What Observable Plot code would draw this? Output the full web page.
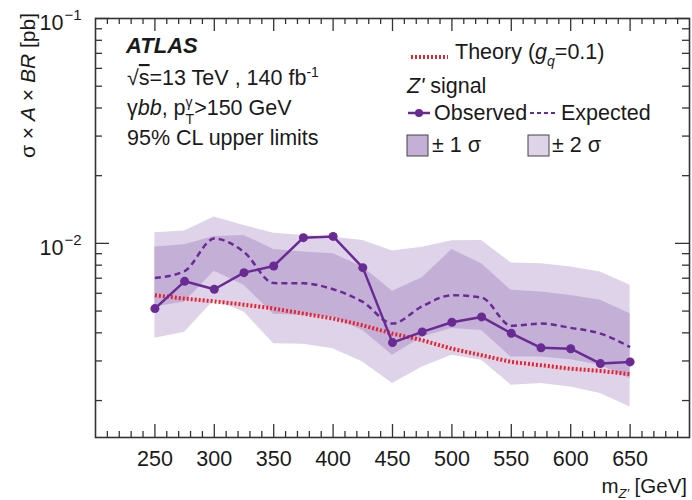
<!DOCTYPE html>
<html><head><meta charset="utf-8">
<script src="https://cdn.jsdelivr.net/npm/d3@7"></script>
<script src="https://cdn.jsdelivr.net/npm/@observablehq/plot@0.6"></script>
<style>
html,body{margin:0;padding:0;background:#fff;}
#chart{width:692px;height:500px;}
</style></head><body><div id="chart"></div>
<script>
// Z' mass points [GeV]
const mass = [250,275,300,325,350,375,400,425,450,475,500,525,550,575,600,625,650];
// 95% CL upper limits on sigma x A x BR [pb]
const observed = [0.00513,0.00678,0.00625,0.00741,0.00793,0.0106,0.01074,0.0078,0.00362,0.00404,0.00446,0.00471,0.00398,0.00343,0.00340,0.00292,0.00297];
const expected = [0.00701,0.00753,0.0105,0.00915,0.00666,0.00664,0.00625,0.00549,0.00440,0.00525,0.00588,0.00574,0.00430,0.00440,0.00421,0.00397,0.00346];
const theory   = [0.00588,0.00568,0.00552,0.00534,0.00513,0.00487,0.00463,0.00432,0.00397,0.00371,0.00340,0.00318,0.00297,0.00287,0.00277,0.00271,0.00262];
const up2 = [0.01116,0.01134,0.01309,0.01202,0.01108,0.01085,0.01066,0.01031,0.00926,0.00960,0.01026,0.01031,0.00817,0.00812,0.00785,0.00745,0.00651];
const up1 = [0.00963,0.00987,0.01074,0.01085,0.00940,0.00915,0.00900,0.00785,0.00612,0.00703,0.00938,0.00812,0.00618,0.00608,0.00587,0.00558,0.00487];
const lo1 = [0.00521,0.00548,0.00751,0.00651,0.00484,0.00479,0.00470,0.00410,0.00318,0.00383,0.00418,0.00410,0.00312,0.00312,0.00304,0.00287,0.00250];
const lo2 = [0.00379,0.00403,0.00558,0.00495,0.00358,0.00356,0.00340,0.00297,0.00238,0.00282,0.00318,0.00302,0.00234,0.00238,0.00230,0.00215,0.00187];

// tick values
const xTickLabels = [250,300,350,400,450,500,550,600,650];
const xMinorTicks = [210,220,230,240,260,270,280,290,310,320,330,340,360,370,380,390,410,420,430,440,460,470,480,490,510,520,530,540,560,570,580,590,610,620,630,640,660,670,680,690];
const yMajorTicks = [0.01, 0.1];
const yMinorTicks = [0.002,0.003,0.004,0.005,0.006,0.007,0.008,0.009,0.02,0.03,0.04,0.05,0.06,0.07,0.08,0.09];

const FONT = "'Liberation Sans', Arial, Helvetica, sans-serif";
const C2 = "#ded3e9", C1 = "#c4b0d7", PURPLE = "#6a2a94", RED = "#e8232f", AX = "#333", TXT = "#1a1a1a";
const W = 692, H = 500, mL = 95, mR = 3, mT = 18, mB = 63;
const iw = W - mL - mR, ih = H - mT - mB;
const FS = 21.5;

const rows = mass.map((m, i) => ({m, obs: observed[i], exp: expected[i], th: theory[i], u2: up2[i], u1: up1[i], l1: lo1[i], l2: lo2[i]}));

const plot = Plot.plot({
  width: W, height: H, marginLeft: mL, marginRight: mR, marginTop: mT, marginBottom: mB,
  style: {fontFamily: FONT, background: "white", color: TXT},
  x: {domain: [200, 700], axis: null},
  y: {type: "log", domain: [1.37e-3, 0.1], axis: null},
  marks: [
    Plot.areaY(rows, {x: "m", y1: "l2", y2: "u2", fill: C2}),
    Plot.areaY(rows, {x: "m", y1: "l1", y2: "u1", fill: C1}),
    Plot.line(rows, {x: "m", y: "th", stroke: RED, strokeWidth: 4, strokeDasharray: "2,2", strokeLinecap: "butt"}),
    Plot.line(rows, {x: "m", y: "exp", stroke: PURPLE, strokeWidth: 2.5, strokeDasharray: "6,4", strokeLinecap: "butt", curve: "monotone-x"}),
    Plot.line(rows, {x: "m", y: "obs", stroke: PURPLE, strokeWidth: 2.5}),
    Plot.dot(rows, {x: "m", y: "obs", r: 4.5, fill: PURPLE}),
    Plot.ruleX(xTickLabels, {x: d => d, insetTop: ih - 13, stroke: AX, strokeWidth: 1.3}),
    Plot.ruleX(xTickLabels, {x: d => d, insetBottom: ih - 13, stroke: AX, strokeWidth: 1.3}),
    Plot.ruleX(xMinorTicks, {x: d => d, insetTop: ih - 6, stroke: AX, strokeWidth: 1.3}),
    Plot.ruleX(xMinorTicks, {x: d => d, insetBottom: ih - 6, stroke: AX, strokeWidth: 1.3}),
    Plot.ruleY(yMajorTicks, {y: d => d, insetRight: iw - 14, stroke: AX, strokeWidth: 1.3}),
    Plot.ruleY(yMajorTicks, {y: d => d, insetLeft: iw - 14, stroke: AX, strokeWidth: 1.3}),
    Plot.ruleY(yMinorTicks, {y: d => d, insetRight: iw - 7, stroke: AX, strokeWidth: 1.3}),
    Plot.ruleY(yMinorTicks, {y: d => d, insetLeft: iw - 7, stroke: AX, strokeWidth: 1.3}),
    Plot.frame({stroke: AX, strokeWidth: 1.6}),
    Plot.text(xTickLabels, {x: d => d, frameAnchor: "bottom", dy: 28, text: d => String(d), fontSize: FS, fill: TXT}),
    Plot.text(yMajorTicks, {y: d => d, frameAnchor: "left", dx: -32, dy: 5, text: () => "10", textAnchor: "end", fontSize: FS, fill: TXT}),
    Plot.text(yMajorTicks, {y: d => d, frameAnchor: "left", dx: -31, dy: -3, text: d => "\u2212" + Math.round(-Math.log10(d)), textAnchor: "start", fontSize: 15, fill: TXT})
  ]
});
document.getElementById("chart").appendChild(plot);

const svg = d3.select(plot);
const g = svg.append("g").attr("font-family", FONT).attr("fill", TXT).attr("text-anchor", "start");

function rich(x, y, runs, base = FS) {
  let cx = x;
  for (const r of runs) {
    const px = cx + (r.dx || 0);
    const t = g.append("text").attr("x", px).attr("y", y + (r.dy || 0))
      .attr("text-anchor", "start")
      .attr("font-size", r.size || base)
      .attr("font-style", r.it ? "italic" : null)
      .attr("font-weight", r.b ? "bold" : null)
      .attr("text-decoration", r.over ? "overline" : null)
      .style("white-space", "pre")
      .text(r.t);
    const w = t.node().getComputedTextLength();
    if (!r.stack) cx = px + w;
  }
  return cx;
}

// Top-left annotation
rich(126, 53, [{t: "ATLAS", b: true, it: true, size: 22}]);
rich(127, 85, [{t: "\u221A"}, {t: "s", over: true}, {t: "=13 TeV , 140 fb"}, {t: "-1", size: 14, dy: -8}]);
rich(127, 115, [{t: "\u03B3"}, {t: "bb", it: true}, {t: ", p"}, {t: "\u03B3", size: 14, dy: -8, stack: true}, {t: "T", size: 14, dy: 9}, {t: ">150 GeV"}]);
rich(127, 145, [{t: "95% CL upper limits"}]);

// Legend
g.append("line").attr("x1", 411).attr("x2", 448).attr("y1", 57).attr("y2", 57)
  .attr("stroke", RED).attr("stroke-width", 4).attr("stroke-dasharray", "2,2");
rich(455, 59, [{t: "Theory ("}, {t: "g", it: true}, {t: "q", it: true, size: 14, dy: 7}, {t: "=0.1)"}]);
rich(407, 93, [{t: "Z'", it: true}, {t: " signal"}]);
g.append("line").attr("x1", 408).attr("x2", 430).attr("y1", 113).attr("y2", 113)
  .attr("stroke", PURPLE).attr("stroke-width", 2.5);
g.append("circle").attr("cx", 419).attr("cy", 113).attr("r", 4).attr("fill", PURPLE);
rich(434, 120, [{t: "Observed"}]);
g.append("line").attr("x1", 530).attr("x2", 557).attr("y1", 113).attr("y2", 113)
  .attr("stroke", PURPLE).attr("stroke-width", 2).attr("stroke-dasharray", "4,3");
rich(561, 120, [{t: "Expected"}]);
g.append("rect").attr("x", 407).attr("y", 135).attr("width", 21).attr("height", 21)
  .attr("fill", C1).attr("stroke", "#444").attr("stroke-width", 1);
rich(432, 152, [{t: "\u00B1 1 \u03C3"}]);
g.append("rect").attr("x", 528).attr("y", 135).attr("width", 21).attr("height", 21)
  .attr("fill", C2).attr("stroke", "#444").attr("stroke-width", 1);
rich(552, 152, [{t: "\u00B1 2 \u03C3"}]);

// Axis titles
const yt = g.append("text").attr("transform", "translate(35,13) rotate(-90)")
  .attr("text-anchor", "end").attr("font-size", 21).style("white-space", "pre");
yt.append("tspan").text("\u03C3 \u00D7 ");
yt.append("tspan").attr("font-style", "italic").text("A");
yt.append("tspan").text(" \u00D7 ");
yt.append("tspan").attr("font-style", "italic").text("BR");
yt.append("tspan").text(" [pb]");

const xt = g.append("text").attr("x", 687).attr("y", 493)
  .attr("text-anchor", "end").attr("font-size", 20.5).style("white-space", "pre");
xt.append("tspan").text("m");
xt.append("tspan").attr("font-size", 13).attr("font-style", "italic").attr("dy", 5).text("Z'");
xt.append("tspan").attr("dy", -5).text(" [GeV]");
</script>
</body></html>
